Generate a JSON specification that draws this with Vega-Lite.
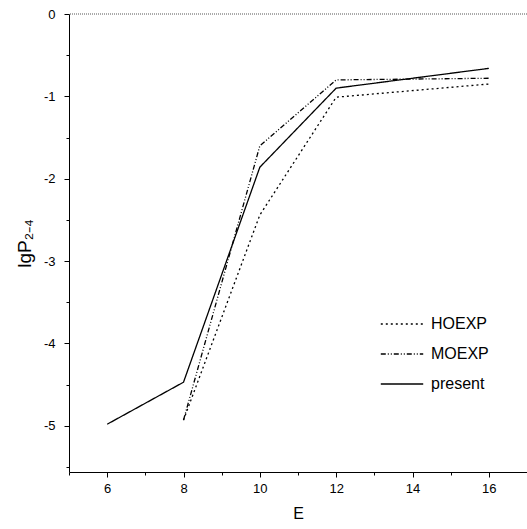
{
  "$schema": "https://vega.github.io/schema/vega-lite/v6.json",
  "width": 458,
  "height": 458,
  "autosize": {"type": "none"},
  "padding": {"left": 69, "top": 14, "right": 0, "bottom": 57},
  "background": "white",
  "config": {
    "view": {"stroke": null},
    "font": "Liberation Sans",
    "axis": {
      "domainColor": "black",
      "tickColor": "black",
      "labelColor": "black",
      "titleColor": "black",
      "grid": false,
      "labelFont": "Liberation Sans",
      "titleFont": "Liberation Sans",
      "labelFontSize": 13,
      "titleFontSize": 16,
      "titleFontWeight": "normal"
    }
  },
  "layer": [
    {
      "data": {"values": [{}]},
      "mark": {"type": "rule", "color": "#555", "strokeWidth": 1, "strokeDash": [1, 1]},
      "encoding": {"y": {"datum": 0, "type": "quantitative"}}
    },
    {
      "data": {
        "values": [
          {"E": 8, "lgP": -4.93, "series": "HOEXP"},
          {"E": 10, "lgP": -2.44, "series": "HOEXP"},
          {"E": 12, "lgP": -1.01, "series": "HOEXP"},
          {"E": 16, "lgP": -0.85, "series": "HOEXP"},
          {"E": 8, "lgP": -4.93, "series": "MOEXP"},
          {"E": 10, "lgP": -1.6, "series": "MOEXP"},
          {"E": 12, "lgP": -0.8, "series": "MOEXP"},
          {"E": 16, "lgP": -0.78, "series": "MOEXP"},
          {"E": 6, "lgP": -4.98, "series": "present"},
          {"E": 8, "lgP": -4.47, "series": "present"},
          {"E": 10, "lgP": -1.86, "series": "present"},
          {"E": 12, "lgP": -0.9, "series": "present"},
          {"E": 16, "lgP": -0.66, "series": "present"}
        ]
      },
      "mark": {"type": "line", "color": "black"},
      "encoding": {
        "x": {
          "field": "E",
          "type": "quantitative",
          "scale": {"domain": [5, 17], "nice": false, "zero": false},
          "axis": {
            "title": "E",
            "values": [5, 6, 7, 8, 9, 10, 11, 12, 13, 14, 15, 16, 17],
            "labelExpr": "datum.value % 2 == 0 ? datum.value : ''",
            "tickSize": {"condition": {"test": "datum.value % 2 != 0", "value": 3}, "value": 5},
            "labelPadding": 5,
            "titlePadding": 10,
            "labelFlush": false
          }
        },
        "y": {
          "field": "lgP",
          "type": "quantitative",
          "scale": {"domain": [-5.56, 0], "nice": false, "zero": false},
          "axis": {
            "title": "lgP₂₋₄",
            "titleFontSize": 19,
            "values": [-5.5, -5, -4.5, -4, -3.5, -3, -2.5, -2, -1.5, -1, -0.5, 0],
            "labelExpr": "datum.value % 1 == 0 ? (datum.value == 0 ? '0' : '-' + abs(datum.value)) : ''",
            "tickSize": {"condition": {"test": "datum.value % 1 != 0", "value": 3}, "value": 5},
            "labelPadding": 9,
            "titlePadding": 9,
            "labelFlush": false
          }
        },
        "strokeDash": {
          "field": "series",
          "type": "nominal",
          "scale": {"domain": ["HOEXP", "MOEXP", "present"], "range": [[2, 3], [5, 2, 1, 2, 1, 2], [1, 0]]},
          "legend": {
            "title": null,
            "orient": "none",
            "legendX": 311,
            "legendY": 288,
            "symbolType": "stroke",
            "symbolSize": 1800,
            "symbolStrokeColor": "black",
            "symbolStrokeWidth": 1.5,
            "labelFontSize": 16,
            "labelFont": "Liberation Sans",
            "labelColor": "black",
            "rowPadding": -5,
            "labelOffset": 7
          }
        },
        "strokeWidth": {
          "field": "series",
          "type": "nominal",
          "scale": {"domain": ["HOEXP", "MOEXP", "present"], "range": [1.3, 1.3, 1.8]},
          "legend": null
        }
      }
    }
  ]
}
